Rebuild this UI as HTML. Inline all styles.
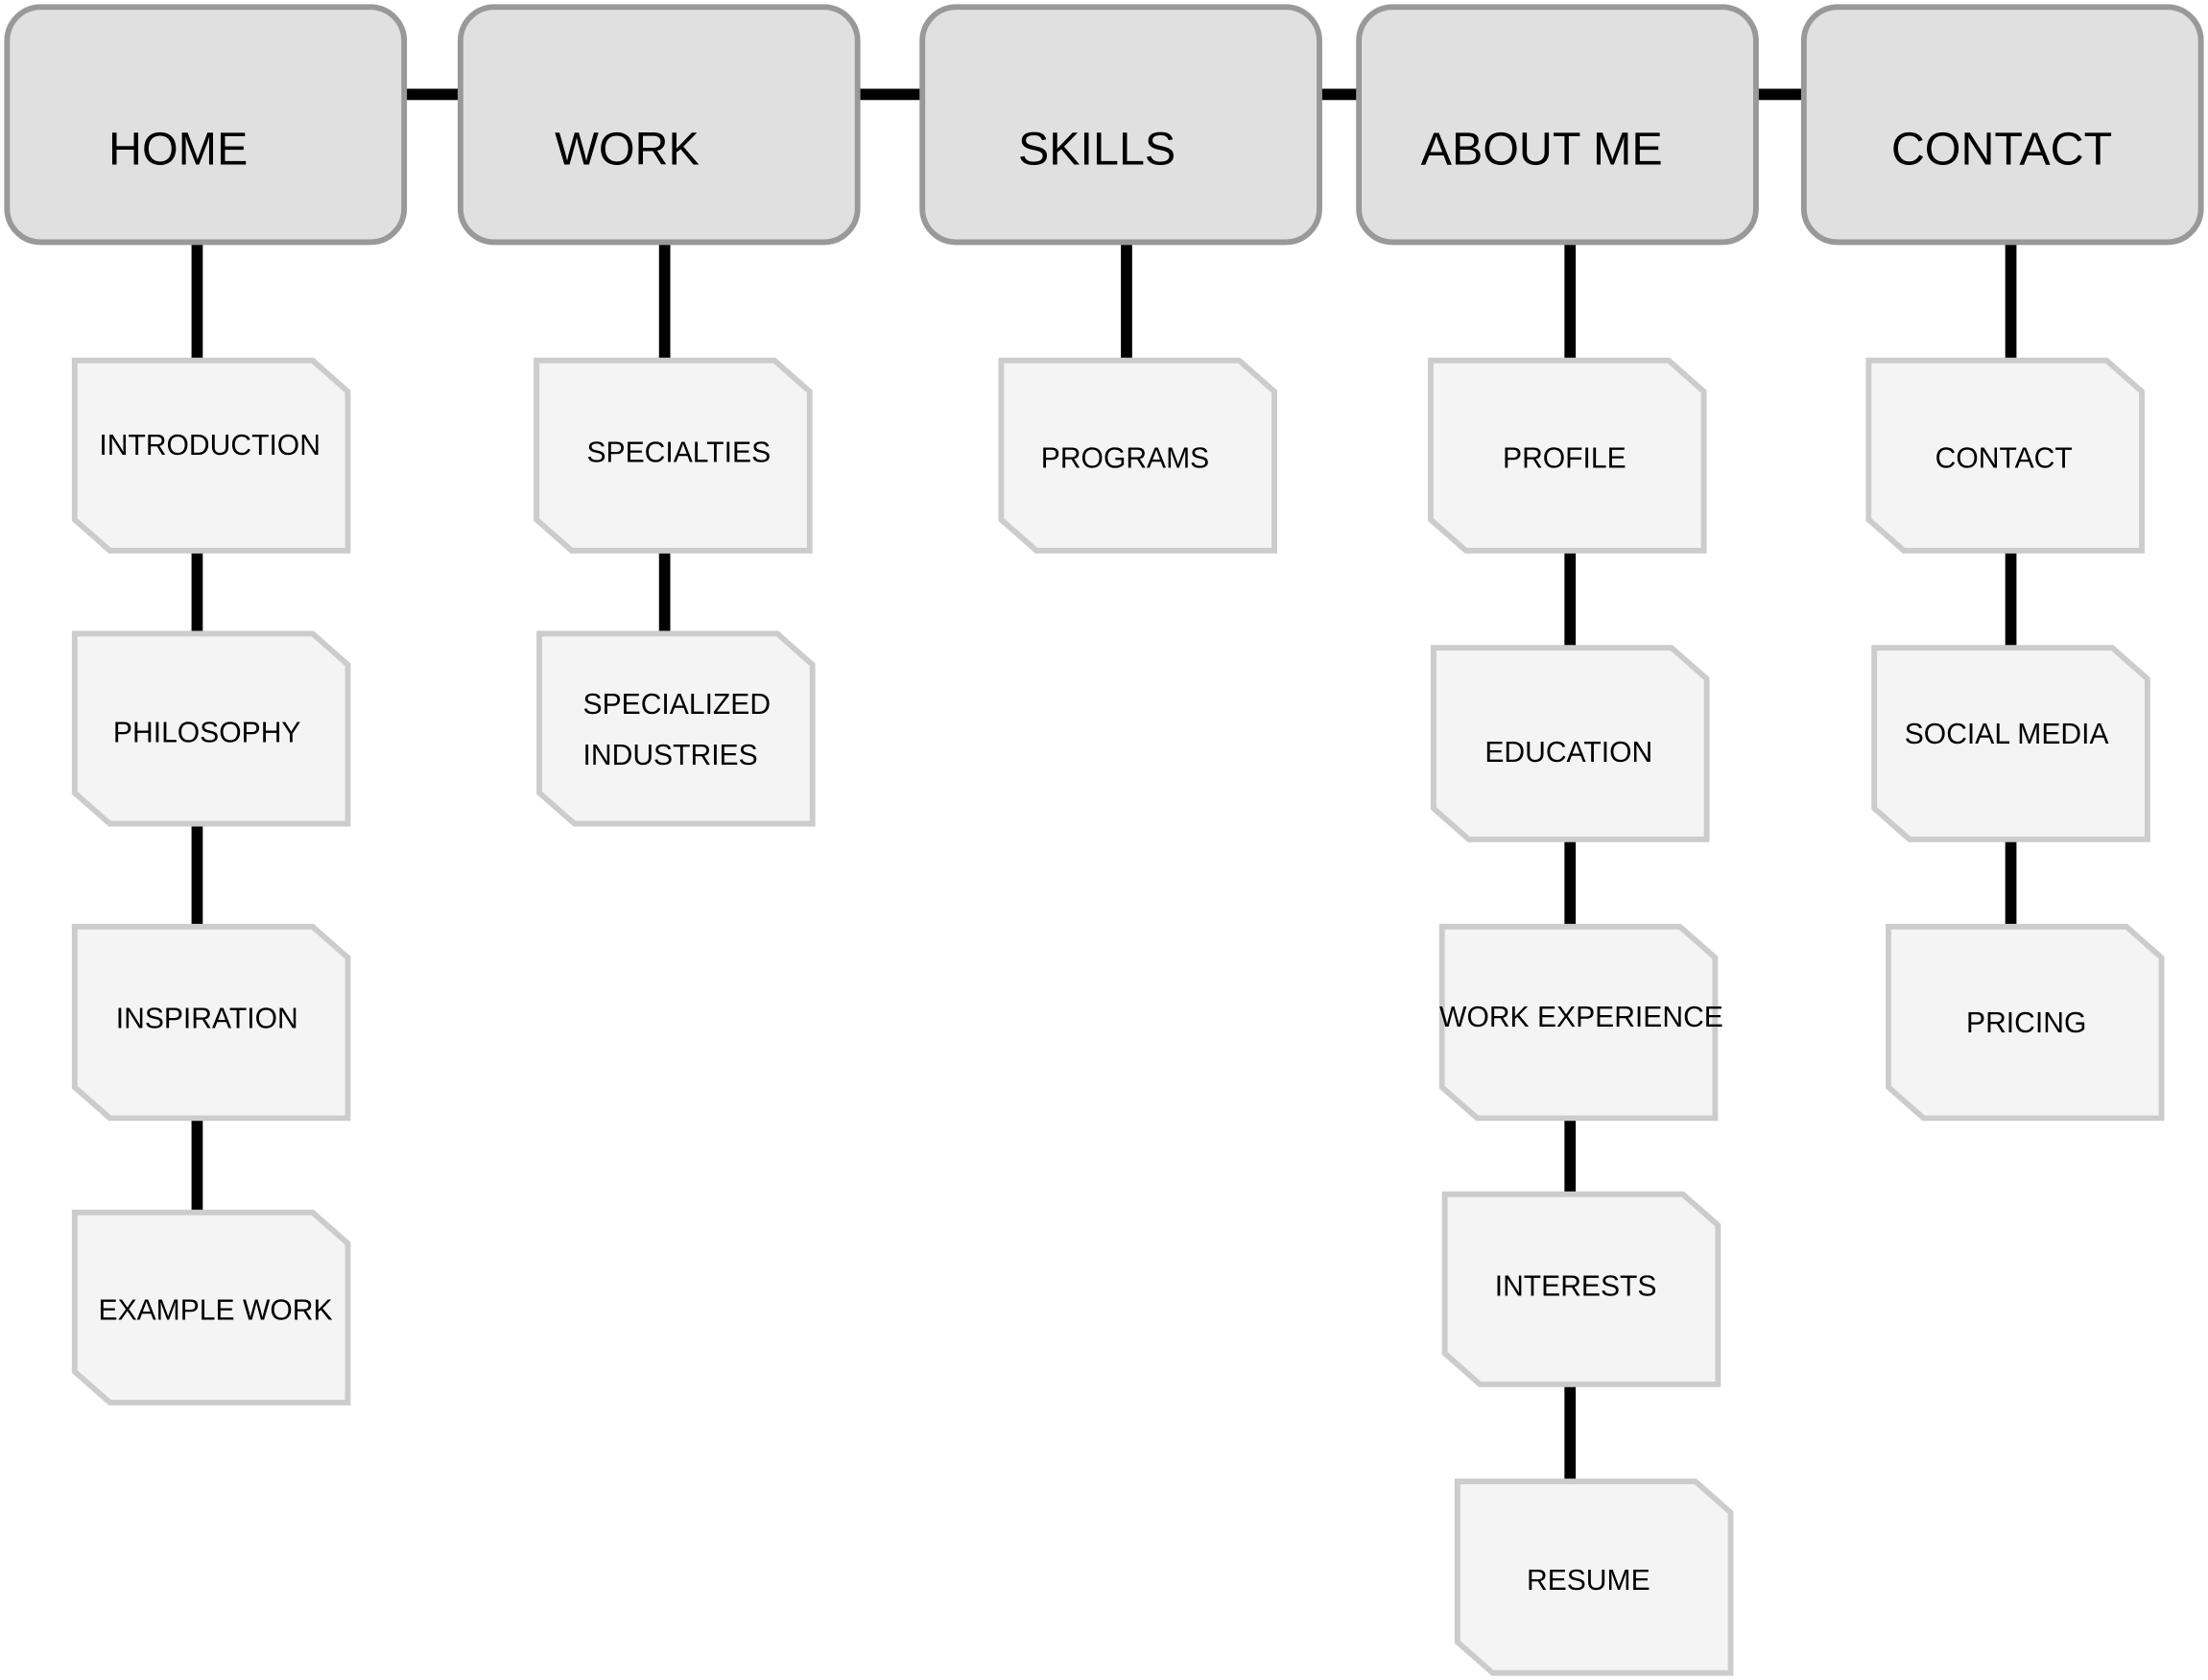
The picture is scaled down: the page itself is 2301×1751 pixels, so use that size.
<!DOCTYPE html>
<html><head><meta charset="utf-8"><style>
html,body{margin:0;padding:0;background:#fff;}
svg{display:block;}
text{font-family:"Liberation Sans",sans-serif;fill:#000;}
</style></head><body>
<svg width="2301" height="1751" viewBox="0 0 1568 1193" preserveAspectRatio="none" xmlns="http://www.w3.org/2000/svg">
<g stroke="#000" stroke-width="8">
<line x1="287" y1="67" x2="1281" y2="67"/>
<line x1="140" y1="170" x2="140" y2="862"/>
<line x1="472" y1="170" x2="472" y2="451"/>
<line x1="800" y1="170" x2="800" y2="257"/>
<line x1="1115" y1="170" x2="1115" y2="1053"/>
<line x1="1428" y1="170" x2="1428" y2="659"/>
</g>
<g fill="#e0e0e0" stroke="#999" stroke-width="4">
<rect x="5" y="5" width="282" height="167" rx="24"/>
<rect x="327" y="5" width="282" height="167" rx="24"/>
<rect x="655" y="5" width="282" height="167" rx="24"/>
<rect x="965" y="5" width="282" height="167" rx="24"/>
<rect x="1281" y="5" width="282" height="167" rx="24"/>
</g>
<g font-size="33">
<text x="77" y="117">HOME</text>
<text x="394" y="117">WORK</text>
<text x="723" y="117">SKILLS</text>
<text x="1009" y="117">ABOUT ME</text>
<text x="1343" y="117">CONTACT</text>
</g>
<g fill="#f4f4f4" stroke="#ccc" stroke-width="4">
<path d="M53 256 H222 L247 278 V391 H78 L53 369 Z"/>
<path d="M53 450 H222 L247 472 V585 H78 L53 563 Z"/>
<path d="M53 658 H222 L247 680 V794 H78 L53 772 Z"/>
<path d="M53 861 H222 L247 883 V996 H78 L53 974 Z"/>
<path d="M381 256 H550 L575 278 V391 H406 L381 369 Z"/>
<path d="M383 450 H552 L577 472 V585 H408 L383 563 Z"/>
<path d="M711 256 H880 L905 278 V391 H736 L711 369 Z"/>
<path d="M1016 256 H1185 L1210 278 V391 H1041 L1016 369 Z"/>
<path d="M1018 460 H1187 L1212 482 V596 H1043 L1018 574 Z"/>
<path d="M1024 658 H1193 L1218 680 V794 H1049 L1024 772 Z"/>
<path d="M1026 848 H1195 L1220 870 V983 H1051 L1026 961 Z"/>
<path d="M1035 1052 H1204 L1229 1074 V1188 H1060 L1035 1166 Z"/>
<path d="M1327 256 H1496 L1521 278 V391 H1352 L1327 369 Z"/>
<path d="M1331 460 H1500 L1525 482 V596 H1356 L1331 574 Z"/>
<path d="M1341 658 H1510 L1535 680 V794 H1366 L1341 772 Z"/>
</g>
<g font-size="20.5" text-anchor="middle">
<text x="149" y="323">INTRODUCTION</text>
<text x="147" y="527">PHILOSOPHY</text>
<text x="147" y="730">INSPIRATION</text>
<text x="153" y="937">EXAMPLE WORK</text>
<text x="482" y="328">SPECIALTIES</text>
<text x="414" y="507" text-anchor="start">SPECIALIZED</text>
<text x="414" y="543" text-anchor="start">INDUSTRIES</text>
<text x="799" y="332">PROGRAMS</text>
<text x="1111" y="332">PROFILE</text>
<text x="1114" y="541">EDUCATION</text>
<text x="1123" y="729">WORK EXPERIENCE</text>
<text x="1119" y="920">INTERESTS</text>
<text x="1128" y="1129">RESUME</text>
<text x="1423" y="332">CONTACT</text>
<text x="1425" y="528">SOCIAL MEDIA</text>
<text x="1439" y="733">PRICING</text>
</g>
</svg>
</body></html>
